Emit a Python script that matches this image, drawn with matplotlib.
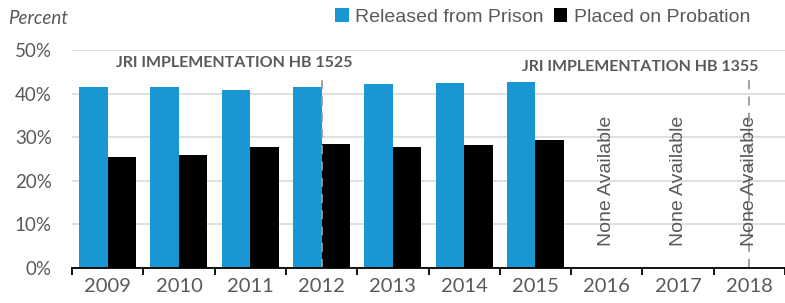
import matplotlib.pyplot as plt
import numpy as np

years = ["2009", "2010", "2011", "2012", "2013", "2014", "2015", "2016", "2017", "2018"]
released = [41.5, 41.5, 40.8, 41.5, 42.2, 42.4, 42.7]
probation = [25.5, 25.9, 27.8, 28.4, 27.8, 28.2, 29.4]
missing_years = ["2016", "2017", "2018"]
jri_years = ["2012", "2018"]
jri_labels = ["JRI IMPLEMENTATION HB 1525", "JRI IMPLEMENTATION HB 1355"]
yticks = [0, 10, 20, 30, 40, 50]

BLUE = "#1996d3"
GREY = "#595959"

fig = plt.figure(figsize=(7.85, 3.03), dpi=100)
ax = fig.add_axes([72 / 785, 1 - 268 / 303, 1 - 72 / 785, (268 - 50) / 303])

x = np.arange(len(years))
xd = np.arange(len(released))
w = 0.4
ax.bar(xd - w / 2, released, width=w, color=BLUE, label="Released from Prison", zorder=2)
ax.bar(xd + w / 2, probation, width=w, color="black", label="Placed on Probation", zorder=2)

ax.set_xlim(-0.5, len(years) - 0.5)
ax.set_ylim(0, 50)
ax.set_yticks(yticks)
ax.set_yticklabels([f"{t}%" for t in yticks], family="Lato", fontsize=13.5, color=GREY)
ax.set_xticks(x)
ax.set_xticklabels(years, family="Lato", fontsize=14.5, color=GREY)
ax.set_xticks(np.arange(len(years) + 1) - 0.5, minor=True)
ax.tick_params(axis="x", which="major", length=0, pad=7)
ax.tick_params(axis="x", which="minor", length=5, width=1.3, color="black")
ax.tick_params(axis="y", length=0, pad=14.5)
ax.grid(axis="y", color="#d9d9d9", linewidth=1.2, zorder=0)
for s in ["top", "right", "left"]:
    ax.spines[s].set_visible(False)
ax.spines["bottom"].set_linewidth(1.3)
ax.spines["bottom"].set_zorder(3)

# "None Available" for years without data
for yr in missing_years:
    i = years.index(yr)
    ax.text(i, 20.0, "None Available", rotation=90, ha="center", va="center",
            family="Liberation Sans", fontsize=14, color=GREY, zorder=4)

# JRI implementation markers
ax.axvline(years.index(jri_years[0]), ymin=0, ymax=0.89, color="#999999",
           linestyle=(0, (5, 4)), linewidth=1.3, zorder=3)
ax.axvline(years.index(jri_years[1]), ymin=0, ymax=0.87, color="#999999",
           linestyle=(0, (5, 4)), linewidth=1.3, zorder=3)
ax.text(years.index(jri_years[0]) - 1.23, 47.0, jri_labels[0], ha="center", va="center",
        family="Lato", weight="bold", fontsize=11.5, color=GREY)
ax.text(years.index(jri_years[1]) - 1.53, 46.1, jri_labels[1], ha="center", va="center",
        family="Lato", weight="bold", fontsize=11.5, color=GREY)

fig.text(8 / 785, 1 - 18 / 303, "Percent", family="Lato", style="italic",
         fontsize=13.5, color=GREY, va="center", ha="left")

leg = fig.legend(loc="center right", bbox_to_anchor=(768 / 785, 1 - 17 / 303), ncol=2,
                 frameon=False, handlelength=0.7, handleheight=0.7, handletextpad=0.35,
                 columnspacing=0.5, prop={"family": "Liberation Sans", "size": 14})
for t in leg.get_texts():
    t.set_color(GREY)

fig.savefig("out.png", dpi=100)
